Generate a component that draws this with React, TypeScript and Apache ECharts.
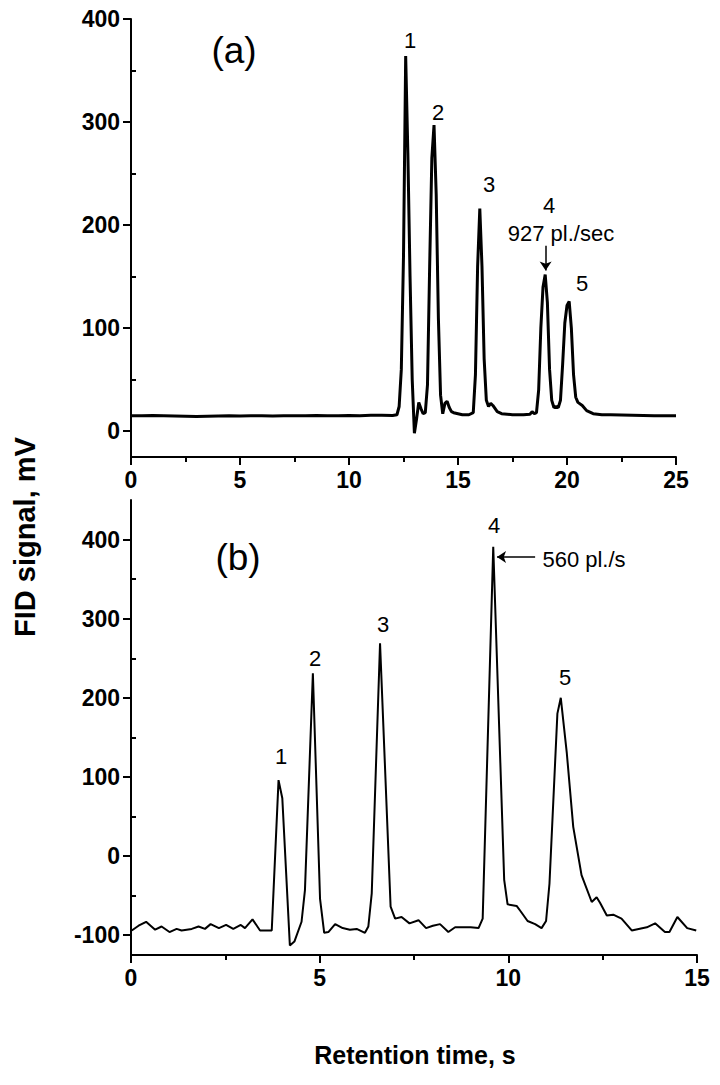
import React, { useEffect, useRef } from "react";
import * as echarts from "echarts";

// ---- Data: panel (a) ----
const timeA = [0, 0.5, 1, 1.5, 2, 2.5, 3, 3.5, 4, 4.5, 5, 5.5, 6, 6.5, 7, 7.5, 8, 8.5, 9, 9.5, 10, 10.5, 11, 11.5, 12, 12.2,
  12.3, 12.4, 12.5, 12.6, 12.7, 12.8, 12.9, 13.0, 13.1, 13.2, 13.3, 13.4, 13.5, 13.6, 13.7, 13.8, 13.9, 14.0, 14.1, 14.2, 14.3,
  14.4, 14.5, 14.6, 14.7, 14.8, 15.0, 15.2, 15.5, 15.7, 15.8, 15.9, 16.0, 16.1, 16.2, 16.3, 16.4, 16.5, 16.6, 16.8, 17.0, 17.5,
  18.0, 18.3, 18.4, 18.5, 18.6, 18.7, 18.8, 18.9, 19.0, 19.1, 19.2, 19.3, 19.4, 19.5, 19.6, 19.7, 19.8, 19.9, 20.0, 20.1, 20.2,
  20.3, 20.4, 20.5, 20.7, 20.9, 21.2, 21.6, 22, 23, 24, 25];
const signalA = [15, 15, 15.2, 15, 14.8, 14.6, 14.4, 14.6, 14.8, 15, 14.8, 15, 15, 14.8, 15, 15, 15, 15.2, 15, 15, 15.2, 15, 15.4, 15.4, 15.2, 16,
  24, 60, 170, 364, 270, 150, 50, -2, 12, 28, 22, 17, 18, 45, 160, 265, 297, 230, 110, 35, 17,
  27, 29, 23, 19, 18, 17, 16, 16, 18, 55, 160, 216, 160, 70, 30, 24, 27, 25, 19, 17, 16,
  16, 16.5, 19, 17, 18, 40, 100, 140, 152, 125, 60, 30, 23, 24, 23, 30, 65, 105, 122, 126, 100,
  55, 33, 28, 25, 20, 17, 16, 16, 15.5, 15, 15];

// ---- Data: panel (b) ----
const timeB = [0.02, 0.2, 0.4, 0.64, 0.81, 1.02, 1.21, 1.34, 1.61, 1.79, 1.96, 2.11, 2.33, 2.52, 2.71, 2.91, 3.02, 3.22, 3.42, 3.73,
  3.91, 4.01, 4.21, 4.33, 4.52, 4.61, 4.82, 5.01, 5.12, 5.23, 5.41, 5.61, 5.8, 5.98, 6.2, 6.29, 6.38, 6.6, 6.88, 7.0, 7.17, 7.38,
  7.62, 7.82, 8.0, 8.19, 8.41, 8.59, 9.0, 9.21, 9.32, 9.6, 9.89, 9.98, 10.22, 10.33, 10.51, 10.71, 10.88, 11.0, 11.09, 11.3,
  11.39, 11.55, 11.72, 11.94, 12.21, 12.34, 12.43, 12.61, 12.78, 13.0, 13.27, 13.67, 13.89, 14.15, 14.27, 14.48, 14.74, 14.98];
const signalB = [-94, -88, -83, -93, -89, -96, -92, -94, -92, -89, -92, -86, -91, -87, -92, -87, -91, -80, -94, -94,
  96, 73, -113, -108, -83, -43, 231, -54, -97, -96, -86, -91, -93, -92, -97, -89, -47, 269, -64, -79, -77, -85,
  -81, -91, -88, -86, -96, -90, -90, -91, -79, 391, -30, -61, -63, -70, -82, -86, -91, -82, -35, 180,
  200, 130, 37, -24, -58, -52, -59, -75, -74, -79, -94, -90, -85, -96, -96, -77, -91, -94];

// ---- Axis ticks ----
const yMajorA = [0, 100, 200, 300, 400];
const yMinorA = [50, 150, 250, 350];
const yMajorB = [-100, 0, 100, 200, 300, 400];
const yMinorB = [-50, 50, 150, 250, 350];

// ---- Peak labels ----
const peakLabelsA = ["1", "2", "3", "4", "5"];
const peakLabelsB = ["1", "2", "3", "4", "5"];

const FONT = '"Liberation Sans", Arial, Helvetica, sans-serif';
const TICK_FONT = 23;
const PEAK_FONT = 22;

function xAxisCfg(gridIndex: number, max: number) {
  return {
    type: "value",
    gridIndex,
    min: 0,
    max,
    interval: 5,
    axisLine: { show: true, onZero: false, lineStyle: { color: "#000", width: 2 } },
    axisTick: { show: true, inside: false, length: 8, lineStyle: { color: "#000", width: 2 } },
    minorTick: { show: true, splitNumber: 2, length: 5, lineStyle: { color: "#000", width: 2 } },
    axisLabel: { color: "#000", fontWeight: "bold", fontSize: TICK_FONT, fontFamily: FONT, margin: 11 },
    splitLine: { show: false },
    minorSplitLine: { show: false },
  };
}

function yAxisCfg(gridIndex: number, min: number, max: number, major: number[]) {
  return {
    type: "value",
    gridIndex,
    min,
    max,
    axisLine: { show: true, onZero: false, lineStyle: { color: "#000", width: 2 } },
    axisTick: { show: true, inside: false, length: 8, customValues: major, lineStyle: { color: "#000", width: 2 } },
    axisLabel: { show: true, customValues: major, color: "#000", fontWeight: "bold", fontSize: TICK_FONT, fontFamily: FONT, margin: 11 },
    splitLine: { show: false },
  };
}

function yMinorCfg(gridIndex: number, min: number, max: number, minor: number[]) {
  return {
    type: "value",
    gridIndex,
    min,
    max,
    axisLine: { show: false },
    axisTick: { show: true, inside: false, length: 5, customValues: minor, lineStyle: { color: "#000", width: 2 } },
    axisLabel: { show: false },
    splitLine: { show: false },
  };
}

function txt(text: string, x: number, y: number, size: number, weight = "normal", rotation = 0) {
  return {
    type: "text",
    x,
    y,
    rotation,
    silent: true,
    style: {
      text,
      fill: "#000",
      fontSize: size,
      fontWeight: weight,
      fontFamily: FONT,
      align: "center",
      verticalAlign: "middle",
    },
  };
}

export default function App() {
  const ref = useRef<HTMLDivElement>(null);

  useEffect(() => {
    if (!ref.current) return;
    const chart = echarts.init(ref.current, undefined, { renderer: "svg" });

    const dataA = timeA.map((t, i) => [t, signalA[i]]);
    const dataB = timeB.map((t, i) => [t, signalB[i]]);

    const option: any = {
      animation: false,
      backgroundColor: "#fff",
      grid: [
        { left: 131, top: 19, width: 545, height: 438 },
        { left: 131, top: 500, width: 566, height: 455 },
      ],
      xAxis: [xAxisCfg(0, 25), xAxisCfg(1, 15)],
      yAxis: [
        yAxisCfg(0, -25, 400, yMajorA),
        yMinorCfg(0, -25, 400, yMinorA),
        yAxisCfg(1, -125, 450, yMajorB),
        yMinorCfg(1, -125, 450, yMinorB),
      ],
      series: [
        {
          type: "line",
          xAxisIndex: 0,
          yAxisIndex: 0,
          data: dataA,
          symbol: "none",
          lineStyle: { color: "#000", width: 3 },
          markLine: {
            silent: true,
            symbol: ["none", "arrow"],
            symbolSize: 9,
            label: { show: false },
            lineStyle: { color: "#000", width: 1.5, type: "solid" },
            data: [[{ coord: [19.02, 180] }, { coord: [19.02, 156] }]],
          },
        },
        {
          type: "line",
          xAxisIndex: 1,
          yAxisIndex: 2,
          data: dataB,
          symbol: "none",
          lineStyle: { color: "#000", width: 2 },
          markLine: {
            silent: true,
            symbol: ["none", "arrow"],
            symbolSize: 9,
            label: { show: false },
            lineStyle: { color: "#000", width: 1.5, type: "solid" },
            data: [[{ coord: [10.71, 378] }, { coord: [9.7, 378] }]],
          },
        },
      ],
      graphic: [
        txt("(a)", 234, 50, 37),
        txt(peakLabelsA[0], 410, 40, PEAK_FONT),
        txt(peakLabelsA[1], 438, 112, PEAK_FONT),
        txt(peakLabelsA[2], 489, 184, PEAK_FONT),
        txt(peakLabelsA[3], 549, 205, PEAK_FONT),
        txt("927 pl./sec", 561, 233, PEAK_FONT),
        txt(peakLabelsA[4], 582, 283, PEAK_FONT),
        txt("(b)", 238, 557, 37),
        txt(peakLabelsB[0], 281, 756, PEAK_FONT),
        txt(peakLabelsB[1], 315, 658, PEAK_FONT),
        txt(peakLabelsB[2], 383, 624, PEAK_FONT),
        txt(peakLabelsB[3], 494, 525, PEAK_FONT),
        txt("560 pl./s", 584, 559, PEAK_FONT),
        txt(peakLabelsB[4], 565, 677, PEAK_FONT),
        txt("FID signal, mV", 25, 537, 29, "bold", Math.PI / 2),
        txt("Retention time, s", 415, 1055, 25, "bold"),
      ],
    };

    chart.setOption(option);
    return () => chart.dispose();
  }, []);

  return (
    <div
      ref={ref}
      style={{ position: "fixed", left: 0, top: 0, width: 720, height: 1085, background: "#fff" }}
    />
  );
}
